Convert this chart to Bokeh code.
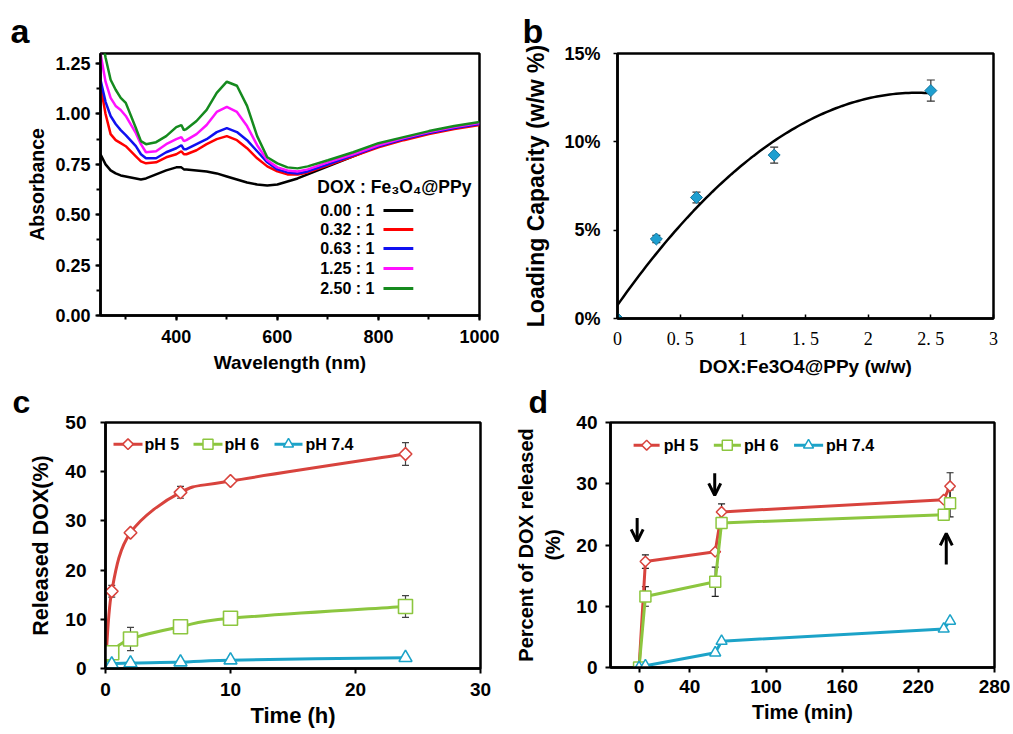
import numpy as np
from bokeh.plotting import figure
from bokeh.layouts import row, column
from bokeh.models import (Range1d, FixedTicker, SingleIntervalTicker, Label, LinearAxis,
                          Whisker, ColumnDataSource, Arrow, OpenHead, TeeHead,
                          PrintfTickFormatter, CustomJSTickFormatter)
from bokeh.embed import file_html
from bokeh.resources import INLINE

SANS = "Liberation Sans"
SERIF = "Liberation Serif"

# ---------------- panel a: UV-vis spectra ----------------
wavelength_nm = [250, 260, 270, 280, 290, 300, 320, 330, 340, 360, 380, 400, 410, 415, 420,
                 440, 460, 480, 500, 520, 540, 560, 580, 600, 620, 640, 660, 700, 750, 800,
                 850, 900, 950, 1000]
abs_000 = [0.80, 0.75, 0.72, 0.705, 0.695, 0.69, 0.68, 0.675, 0.68, 0.70, 0.72, 0.735, 0.735, 0.725, 0.725,
           0.72, 0.715, 0.705, 0.69, 0.675, 0.66, 0.65, 0.645, 0.65, 0.665, 0.68, 0.70, 0.74, 0.79, 0.84,
           0.875, 0.91, 0.935, 0.952]
abs_032 = [1.14, 1.00, 0.90, 0.87, 0.855, 0.84, 0.79, 0.765, 0.755, 0.76, 0.785, 0.80, 0.815, 0.80, 0.80,
           0.82, 0.85, 0.875, 0.89, 0.87, 0.83, 0.78, 0.74, 0.715, 0.70, 0.70, 0.71, 0.745, 0.79, 0.835,
           0.87, 0.90, 0.925, 0.945]
abs_063 = [1.17, 1.06, 0.99, 0.95, 0.92, 0.895, 0.84, 0.80, 0.78, 0.78, 0.81, 0.83, 0.845, 0.825, 0.825,
           0.85, 0.875, 0.91, 0.93, 0.91, 0.87, 0.815, 0.76, 0.725, 0.71, 0.705, 0.715, 0.75, 0.795, 0.84,
           0.875, 0.905, 0.93, 0.95]
abs_125 = [1.30, 1.16, 1.08, 1.04, 1.02, 0.99, 0.905, 0.85, 0.81, 0.815, 0.85, 0.875, 0.885, 0.865, 0.87,
           0.90, 0.945, 1.01, 1.035, 1.01, 0.94, 0.845, 0.77, 0.735, 0.72, 0.715, 0.725, 0.76, 0.80, 0.845,
           0.88, 0.91, 0.935, 0.955]
abs_250 = [1.42, 1.28, 1.17, 1.12, 1.08, 1.055, 0.93, 0.865, 0.85, 0.86, 0.89, 0.935, 0.945, 0.92, 0.925,
           0.965, 1.02, 1.105, 1.16, 1.14, 1.04, 0.89, 0.785, 0.755, 0.735, 0.73, 0.74, 0.77, 0.81, 0.855,
           0.885, 0.915, 0.94, 0.96]
ratio_labels = ["0.00 : 1", "0.32 : 1", "0.63 : 1", "1.25 : 1", "2.50 : 1"]
spectra_colors = ["#000000", "#FF0000", "#1010F0", "#FF10FF", "#158A1E"]
# legend layout of panel a (data units)
legend_a_title_xy = (679, 0.640)
legend_a_label_x = 792
legend_a_line_x = (810, 869)
legend_a_rows_y = [0.521, 0.427, 0.332, 0.233, 0.134]

# ---------------- panel b: loading capacity ----------------
dox_ratio = [0, 0.31, 0.63, 1.25, 2.5]
loading_pct = [0, 4.5, 6.85, 9.25, 12.9]
loading_err = [0, 0.2, 0.3, 0.45, 0.6]

# ---------------- panel c: release vs time (h) ----------------
time_h = [0, 0.5, 2, 6, 10, 24]
rel_ph5 = [0, 15.7, 27.6, 35.8, 38.1, 43.6]
rel_ph5_err = [0, 1.2, 0, 1.2, 0, 2.3]
rel_ph6 = [0, 3.2, 6.0, 8.5, 10.2, 12.6]
rel_ph6_err = [0, 0, 2.35, 0, 0, 2.2]
rel_ph74 = [0, 0.9, 1.1, 1.3, 1.7, 2.2]
rel_ph74_err = [0, 0, 0, 0, 0, 0]

# ---------------- panel d: release vs time (min), NIR on/off ----------------
time_min = [0, 5, 60, 65, 240, 245]
pct_ph5 = [0, 17.3, 18.9, 25.4, 27.4, 29.6]
pct_ph5_err = [0, 1.1, 0, 1.3, 0, 2.2]
pct_ph6 = [0, 11.6, 14.0, 23.6, 24.95, 26.8]
pct_ph6_err = [0, 1.6, 2.4, 0, 0, 2.2]
pct_ph74 = [0, 0.3, 2.4, 4.3, 6.3, 7.6]
pct_ph74_err = [0, 0, 0, 0, 0, 0]
arrows_d = [(-1.5, 24.4, -1.5, 20.6), (59.6, 31.7, 59.6, 28.1), (242, 16.8, 242, 21.9)]

ph_labels_c = ["pH 5", "pH 6", "pH 7.4"]
ph_labels_d = ["pH 5", "pH 6", "pH  7.4"]
ph_colors = ["#D8433D", "#8CC63F", "#1CA3C8"]
# in-plot legend layout (data units)
legend_c_y = 45.6
legend_c_lines = [(0.64, 2.96), (7.04, 9.36), (13.52, 15.76)]
legend_c_marker_x = [1.8, 8.2, 14.64]
legend_c_text_x = [3.12, 9.52, 16.0]
legend_d_y = 36.3
legend_d_lines = [(-4.3, 16.2), (58.9, 80.2), (122.1, 145.0)]
legend_d_marker_x = [6.0, 69.5, 133.5]
legend_d_text_x = [19.4, 82.6, 147.3]


def make_fig(w, h, xr, yr, bl, br, bt, bb, letter, letter_dx, letter_standoff, letter_px):
    p = figure(width=w, height=h, x_range=xr, y_range=yr, output_backend="svg",
               toolbar_location=None, title=letter,
               min_border_left=bl, min_border_right=br, min_border_top=bt, min_border_bottom=bb)
    p.frame_align = False
    p.title.align = "left"
    p.title.offset = letter_dx
    p.title.standoff = letter_standoff
    p.title.text_font = SANS
    p.title.text_font_style = "bold"
    p.title.text_font_size = letter_px
    p.title.text_color = "black"
    p.grid.visible = False
    p.outline_line_color = "black"
    p.outline_line_width = 2.5
    p.outline_line_alpha = 1.0
    p.background_fill_color = "white"
    p.border_fill_color = "white"
    for ax in p.axis:
        ax.axis_line_color = "black"
        ax.axis_line_width = 2.5
        ax.major_tick_line_color = "black"
        ax.major_tick_line_width = 2
        ax.minor_tick_line_color = "black"
        ax.minor_tick_line_width = 2
        ax.major_tick_in = 0
        ax.major_tick_out = 5
        ax.minor_tick_in = 0
        ax.minor_tick_out = 0
        ax.major_label_text_font = SANS
        ax.major_label_text_font_style = "bold"
        ax.major_label_text_color = "black"
        ax.axis_label_text_font = SANS
        ax.axis_label_text_font_style = "bold"
        ax.axis_label_text_color = "black"
    return p


def add_whiskers(p, xs, ys, errs, color, head):
    keep = [i for i, e in enumerate(errs) if e > 0]
    src = ColumnDataSource(dict(x=[xs[i] for i in keep],
                                lo=[ys[i] - errs[i] for i in keep],
                                hi=[ys[i] + errs[i] for i in keep]))
    p.add_layout(Whisker(source=src, base="x", lower="lo", upper="hi", level="underlay",
                         line_color=color, line_width=1.2,
                         upper_head=TeeHead(size=head, line_color=color, line_width=1.2),
                         lower_head=TeeHead(size=head, line_color=color, line_width=1.2)))


def smooth_segments(xs, ys):
    x = np.asarray(xs, float)
    y = np.asarray(ys, float)
    n = len(x)
    xp = np.concatenate([[x[0]], x, [x[-1]]])
    yp = np.concatenate([[y[0]], y, [y[-1]]])
    cx0 = xp[1:n] + (xp[2:n + 1] - xp[0:n - 1]) / 6.0
    cy0 = yp[1:n] + (yp[2:n + 1] - yp[0:n - 1]) / 6.0
    cx1 = xp[2:n + 1] - (xp[3:n + 2] - xp[1:n]) / 6.0
    cy1 = yp[2:n + 1] - (yp[3:n + 2] - yp[1:n]) / 6.0
    return dict(x0=x[:-1], y0=y[:-1], x1=x[1:], y1=y[1:], cx0=cx0, cy0=cy0, cx1=cx1, cy1=cy1)


def manual_legend(p, labels, colors, markers, y, lines, mxs, txs, marker_sizes):
    for lab, col, (mk, ang), (x0, x1), mx, tx, ms in zip(labels, colors, markers, lines, mxs, txs,
                                                          marker_sizes):
        p.segment(x0=[x0], x1=[x1], y0=[y], y1=[y], line_color=col, line_width=3)
        p.scatter([mx], [y], marker=mk, angle=ang, size=ms, fill_color="white",
                  line_color=col, line_width=1.5)
        p.add_layout(Label(x=tx, y=y, text=lab, text_font=SANS, text_font_style="bold",
                           text_font_size="16px", text_align="left", text_baseline="middle",
                           text_color="black"))


# ======================= panel a =======================
pa = make_fig(510, 379, Range1d(250, 1000), Range1d(0, 1.3), 100, 31, 53, 64, "a", -90, 7, "34px")
pa.xaxis.ticker = SingleIntervalTicker(interval=200, num_minor_ticks=2)
pa.yaxis.ticker = SingleIntervalTicker(interval=0.25, num_minor_ticks=2)
pa.yaxis.formatter = PrintfTickFormatter(format="%.2f")
for ax in pa.axis:
    ax.minor_tick_out = 4
    ax.major_label_text_font_size = "18px"
    ax.major_label_standoff = 5
pa.xaxis.major_label_standoff = 9
pa.xaxis.axis_label = "Wavelength (nm)"
pa.xaxis.axis_label_text_font_size = "19px"
pa.xaxis.axis_label_standoff = 6
pa.yaxis.axis_label = "Absorbance"
pa.yaxis.axis_label_text_font_size = "19.5px"
pa.yaxis.axis_label_standoff = 4

for ys, col in zip([abs_000, abs_032, abs_063, abs_125, abs_250], spectra_colors):
    pa.line(wavelength_nm, ys, line_color=col, line_width=2.5)

pa.add_layout(Label(x=legend_a_title_xy[0], y=legend_a_title_xy[1], text="DOX : Fe\u2083O\u2084@PPy",
                    text_font=SANS, text_font_style="bold", text_font_size="17.5px",
                    text_align="left", text_baseline="middle", text_color="black"))
for lab, yy, col in zip(ratio_labels, legend_a_rows_y, spectra_colors):
    pa.add_layout(Label(x=legend_a_label_x, y=yy, text=lab, text_font=SANS, text_font_style="bold",
                        text_font_size="16px", text_align="right", text_baseline="middle",
                        text_color="black"))
    pa.segment(x0=[legend_a_line_x[0]], x1=[legend_a_line_x[1]], y0=[yy], y1=[yy],
               line_color=col, line_width=3)

# ======================= panel b =======================
pb = make_fig(500, 379, Range1d(0, 3), Range1d(0, 15), 107, 17, 53, 56, "b", -95, 8, "34px")
pb.xaxis.ticker = FixedTicker(ticks=[0, 0.5, 1, 1.5, 2, 2.5, 3])
pb.xaxis.formatter = CustomJSTickFormatter(
    code="return Number.isInteger(tick) ? tick.toFixed(0) : tick.toFixed(1).replace('.', '. ');")
pb.xaxis.major_tick_in = 4
pb.xaxis.major_tick_out = 0
pb.xaxis.major_tick_line_width = 1.5
pb.xaxis.major_label_text_font = SERIF
pb.xaxis.major_label_text_font_style = "normal"
pb.xaxis.major_label_text_font_size = "18px"
pb.xaxis.major_label_standoff = 10
pb.xaxis.axis_label = "DOX:Fe3O4@PPy (w/w)"
pb.xaxis.axis_label_text_font_size = "19px"
pb.xaxis.axis_label_standoff = 4
pb.yaxis.ticker = FixedTicker(ticks=[0, 5, 10, 15])
pb.yaxis.formatter = PrintfTickFormatter(format="%d%%")
pb.yaxis.major_tick_out = 4
pb.yaxis.major_tick_line_width = 1.5
pb.yaxis.major_label_text_font_size = "18px"
pb.yaxis.major_label_standoff = 13
pb.yaxis.axis_label = "Loading Capacity (w/w %)"
pb.yaxis.axis_label_text_font_size = "23px"
pb.yaxis.axis_label_standoff = 12

coef = np.polyfit(dox_ratio, loading_pct, 2)
fit_x = np.linspace(0, dox_ratio[-1], 100)
pb.line(fit_x, np.polyval(coef, fit_x), line_color="black", line_width=2.5)
add_whiskers(pb, dox_ratio, loading_pct, loading_err, "#333333", 8)
pb.scatter(dox_ratio, loading_pct, marker="square", angle=np.pi / 4, size=8.5,
           fill_color="#1E9FD0", line_color="#1678A0", line_width=1)

# ======================= panel c =======================
pc = make_fig(510, 353, Range1d(0, 30), Range1d(0, 50), 105, 30, 40, 64, "c", -93, 5, "32px")
pc.xaxis.ticker = FixedTicker(ticks=[0, 10, 20, 30])
pc.yaxis.ticker = FixedTicker(ticks=[0, 10, 20, 30, 40, 50])
pc.xaxis.major_label_text_font_size = "19px"
pc.yaxis.major_label_text_font_size = "19px"
pc.xaxis.major_label_standoff = 9
pc.yaxis.major_label_standoff = 14
pc.xaxis.axis_label = "Time (h)"
pc.xaxis.axis_label_text_font_size = "22px"
pc.xaxis.axis_label_standoff = 4
pc.yaxis.axis_label = "Released DOX(%)"
pc.yaxis.axis_label_text_font_size = "21.5px"
pc.yaxis.axis_label_standoff = 9

markers_c = [("square", np.pi / 4, 9), ("square", 0, 14), ("triangle", 0, 13)]
for ys, es, col, (mk, ang, sz) in zip([rel_ph5, rel_ph6, rel_ph74],
                                     [rel_ph5_err, rel_ph6_err, rel_ph74_err],
                                     ph_colors, markers_c):
    add_whiskers(pc, time_h, ys, es, "#444444", 7)
    seg = smooth_segments(time_h, ys)
    pc.bezier(x0=seg["x0"], y0=seg["y0"], x1=seg["x1"], y1=seg["y1"], cx0=seg["cx0"], cy0=seg["cy0"],
              cx1=seg["cx1"], cy1=seg["cy1"], line_color=col, line_width=3, line_cap="round")
    pc.scatter(time_h, ys, marker=mk, angle=ang, size=sz, fill_color="white",
               line_color=col, line_width=1.6)
manual_legend(pc, ph_labels_c, ph_colors, [(m[0], m[1]) for m in markers_c], legend_c_y,
              legend_c_lines, legend_c_marker_x, legend_c_text_x, [7.5, 10, 10])

# ======================= panel d =======================
pd = make_fig(500, 353, Range1d(-22.5, 280), Range1d(0, 40), 100, 16, 40, 65, "d", -82, 5, "32px")
pd.xaxis.ticker = FixedTicker(ticks=[0, 40, 100, 160, 220, 280])
pd.yaxis.ticker = FixedTicker(ticks=[0, 10, 20, 30, 40])
for ax in pd.axis:
    ax.major_label_text_font_size = "19px"
pd.xaxis.major_label_standoff = 7
pd.yaxis.major_label_standoff = 8
pd.xaxis.axis_label = "Time (min)"
pd.xaxis.axis_label_text_font_size = "20px"
pd.xaxis.axis_label_standoff = 5
pd.yaxis.axis_label = "(%)"
pd.yaxis.axis_label_text_font_size = "20px"
pd.yaxis.axis_label_standoff = 9
outer_d = LinearAxis(axis_label="Percent of DOX released", ticker=FixedTicker(ticks=[]),
                     axis_line_alpha=0, major_tick_out=0, major_tick_in=0, minor_tick_out=0,
                     minor_tick_in=0, major_label_standoff=0, axis_label_standoff=3,
                     axis_label_text_font=SANS, axis_label_text_font_style="bold",
                     axis_label_text_font_size="20px", axis_label_text_color="black")
pd.add_layout(outer_d, "left")

markers_d = [("square", np.pi / 4, 7.5), ("square", 0, 11), ("triangle", 0, 11)]
for ys, es, col, (mk, ang, sz) in zip([pct_ph5, pct_ph6, pct_ph74],
                                     [pct_ph5_err, pct_ph6_err, pct_ph74_err],
                                     ph_colors, markers_d):
    add_whiskers(pd, time_min, ys, es, "#222222", 7)
    pd.line(time_min, ys, line_color=col, line_width=3)
    pd.scatter(time_min, ys, marker=mk, angle=ang, size=sz, fill_color="white",
               line_color=col, line_width=1.5)
manual_legend(pd, ph_labels_d, ph_colors, [(m[0], m[1]) for m in markers_d], legend_d_y,
              legend_d_lines, legend_d_marker_x, legend_d_text_x, [7, 10, 10])
for (xs_, ys_, xe_, ye_) in arrows_d:
    pd.add_layout(Arrow(x_start=xs_, y_start=ys_, x_end=xe_, y_end=ye_, line_color="black",
                        line_width=3,
                        end=OpenHead(size=12, line_color="black", line_width=3)))

layout = row(column(pa, pc), column(pb, pd))
open("out.html", "w").write(file_html(layout, INLINE))
